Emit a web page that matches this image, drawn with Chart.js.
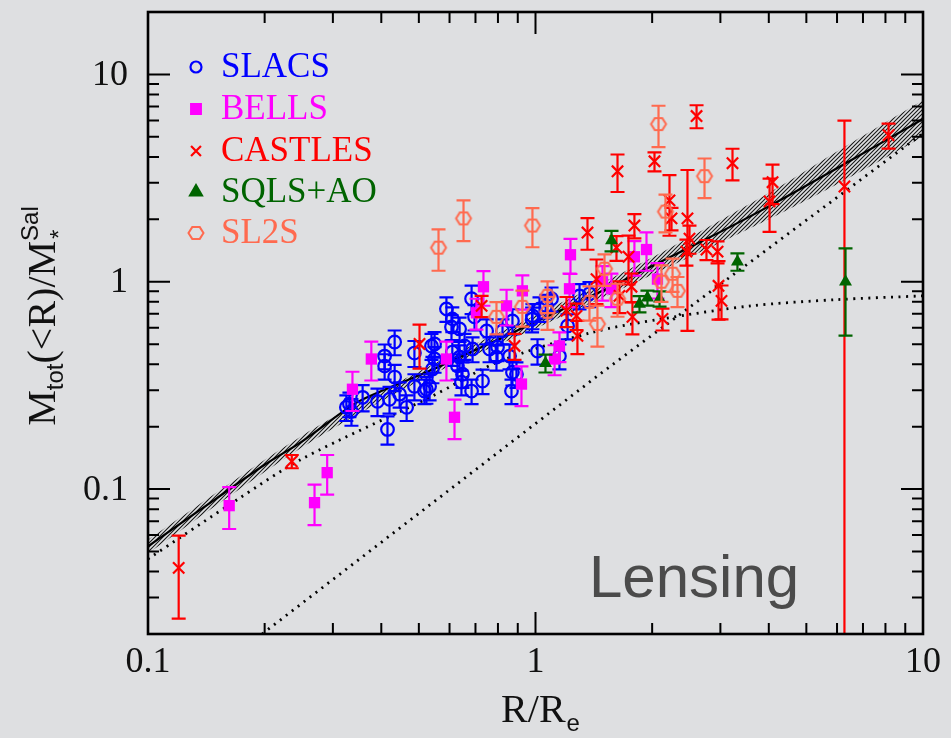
<!DOCTYPE html>
<html>
<head>
<meta charset="utf-8">
<script src="https://cdn.jsdelivr.net/npm/chart.js@4.4.0/dist/chart.umd.min.js"></script>
<style>
  html, body { margin: 0; padding: 0; background: #dedfe1; }
  #wrap { width: 951px; height: 738px; }
</style>
</head>
<body>
<div id="wrap"><canvas id="chart" width="951" height="738"></canvas></div>
<script>
// M_tot(<R)/M_*^Sal against R/R_e, strong lensing samples

// SLACS (blue open circles)
const slacsX = [0.433, 0.408, 0.408, 0.487, 0.433, 0.358, 0.391, 0.42, 0.446, 0.465,
                0.487, 0.523, 0.415, 0.325, 0.331, 0.335, 0.684, 0.589, 0.61, 0.607,
                0.637, 0.696, 0.688, 0.656, 0.61, 0.549, 0.539, 0.549, 0.542, 0.517,
                0.533, 0.637, 0.629, 0.648, 0.644, 0.684, 0.73, 0.761, 0.748, 0.798,
                0.793, 0.857, 0.893, 0.867, 0.872, 0.982, 1.012, 1.067, 0.822, 1.1,
                1.299, 1.378, 1.21, 1.153, 1.024, 0.98, 0.872];
const slacsY = [0.512, 0.438, 0.392, 0.453, 0.347, 0.277, 0.265, 0.271, 0.287, 0.248,
                0.313, 0.303, 0.194, 0.248, 0.257, 0.237, 0.828, 0.74, 0.662, 0.605,
                0.592, 0.677, 0.474, 0.49, 0.458, 0.501, 0.49, 0.424, 0.379, 0.297,
                0.313, 0.433, 0.392, 0.358, 0.328, 0.297, 0.332, 0.474, 0.579, 0.484,
                0.433, 0.438, 0.358, 0.297, 0.647, 0.685, 0.463, 0.765, 0.579, 0.828,
                0.855, 0.875, 0.612, 0.438, 0.74, 0.66, 0.366];
const slacsErr = [0.07, 0.06, 0.055, 0.065, 0.05, 0.04, 0.04, 0.04, 0.04, 0.035,
                  0.045, 0.045, 0.03, 0.035, 0.035, 0.035, 0.13, 0.1, 0.09, 0.085,
                  0.08, 0.095, 0.065, 0.07, 0.065, 0.07, 0.07, 0.06, 0.055, 0.04,
                  0.045, 0.06, 0.055, 0.05, 0.045, 0.04, 0.045, 0.065, 0.08, 0.07,
                  0.06, 0.06, 0.05, 0.04, 0.09, 0.095, 0.065, 0.1, 0.08, 0.11,
                  0.12, 0.12, 0.085, 0.06, 0.1, 0.09, 0.05];

// BELLS (magenta filled squares)
const bellsX = [0.162, 0.269, 0.29, 0.337, 0.377, 0.734, 0.704, 0.842, 0.925, 0.589,
                0.92, 0.618, 1.231, 1.224, 1.934, 1.8, 1.489, 1.57, 2.064, 1.153, 1.12];
const bellsY = [0.0832, 0.086, 0.12, 0.303, 0.424, 0.946, 0.708, 0.765, 0.904, 0.424,
                0.321, 0.222, 1.35, 0.925, 1.43, 1.32, 1.0, 0.925, 1.03, 0.49, 0.424];
const bellsErr = [0.019, 0.019, 0.026, 0.065, 0.09, 0.18, 0.12, 0.15, 0.17, 0.09,
                  0.07, 0.048, 0.26, 0.17, 0.3, 0.25, 0.19, 0.17, 0.2, 0.08, 0.07];

// CASTLES (red crosses)
const castlesX = [0.12, 0.235, 0.502, 0.726, 0.883, 1.362, 1.628, 2.028, 2.604, 3.224,
                  1.8, 2.217, 2.244, 2.467, 2.497, 2.452, 2.762, 2.95, 2.967, 3.02,
                  4.018, 4.09, 6.27, 8.15, 2.127, 1.618, 1.738, 1.437, 1.769, 1.202,
                  1.276, 1.283, 1.779, 1.647];
const castlesY = [0.0417, 0.136, 0.501, 0.765, 0.49, 1.727, 3.41, 3.81, 6.3, 3.73,
                  1.867, 2.467, 2.02, 2.02, 1.615, 1.397, 1.43, 1.397, 0.956, 0.809,
                  2.44, 3.02, 2.88, 5.09, 0.662, 1.46, 1.32, 1.03, 0.946, 0.724,
                  0.685, 0.548, 0.677, 0.855];
const castlesErr = [0.018, 0.01, 0.12, 0.09, 0.07, 0.3, 0.7, 0.4, 0.8, 0.65,
                    0.25, 0.8, 0.25, 1.44, 0.25, 0.2, 0.16, 0.17, 0.3, 0.15,
                    0.7, 0.65, 3.1, 0.7, 0.08, 0.2, 0.35, 0.25, 0.15, 0.12,
                    0.1, 0.1, 0.12, 0.15];

// SQLS+AO (green filled triangles)
const sqlsX = [1.061, 1.571, 1.855, 1.945, 2.09, 3.32, 6.31];
const sqlsY = [0.405, 1.58, 0.782, 0.837, 0.828, 1.25, 1.0];
const sqlsErr = [0.04, 0.18, 0.07, 0.07, 0.07, 0.12, 0.45];

// SL2S (coral open hexagons)
const sl2sX = [0.562, 0.652, 0.982, 2.077, 2.73, 2.165, 0.793, 0.925, 1.074, 1.074,
               1.378, 1.445, 1.507, 1.628, 2.114, 2.258, 2.325];
const sl2sY = [1.46, 2.02, 1.867, 5.76, 3.23, 2.18, 0.677, 0.757, 0.855, 0.716,
               0.8, 0.626, 1.156, 0.828, 1.0, 1.093, 0.904];
const sl2sErr = [0.33, 0.45, 0.4, 1.3, 0.7, 0.45, 0.12, 0.15, 0.15, 0.13,
                 0.15, 0.14, 0.2, 0.15, 0.2, 0.2, 0.15];

// model curves
const fitX = [0.1, 0.15, 0.2, 0.25, 0.34, 0.4, 0.53, 0.7, 1, 1.47, 2, 3, 4, 6, 10];
const fitY = [0.053, 0.09, 0.131, 0.17, 0.257, 0.297, 0.37, 0.469, 0.64, 0.895, 1.19, 1.74, 2.31, 3.53, 6.1];
const bandX = [0.1, 0.25, 0.53, 1, 2, 4, 6, 10];
const bandHi = [0.057, 0.181, 0.39, 0.69, 1.31, 2.68, 4.25, 7.5];
const bandLo = [0.049, 0.159, 0.35, 0.595, 1.08, 2.0, 2.95, 5.0];
const starX = [0.1, 0.17, 0.25, 0.54, 0.8, 1.4, 2.1, 3.6, 6, 10];
const starY = [0.046, 0.089, 0.14, 0.28, 0.41, 0.57, 0.66, 0.765, 0.82, 0.855];
const dmX = [0.197, 1.47, 10];
const dmY = [0.02, 0.36, 5.2];

// axes
const xMajorTicks = [0.1, 1, 10];
const xTickLabels = ['0.1', '1', '10'];
const xMinorTicks = [0.2, 0.3, 0.4, 0.5, 0.6, 0.7, 0.8, 0.9, 2, 3, 4, 5, 6, 7, 8, 9];
const yMajorTicks = [0.1, 1, 10];
const yTickLabels = ['0.1', '1', '10'];
const yMinorTicks = [0.03, 0.04, 0.05, 0.06, 0.07, 0.08, 0.09,
                     0.2, 0.3, 0.4, 0.5, 0.6, 0.7, 0.8, 0.9, 2, 3, 4, 5, 6, 7, 8, 9];

const SERIF = '"Liberation Serif", "DejaVu Serif", serif';
const SANS = '"Liberation Sans", Arial, sans-serif';

const xy = (xs, ys) => xs.map((x, i) => ({ x: x, y: ys[i] }));

const canvas = document.getElementById('chart');
const mainCtx = canvas.getContext('2d');

function makeHatch() {
  const c = document.createElement('canvas');
  c.width = 4; c.height = 4;
  const g = c.getContext('2d');
  g.strokeStyle = 'rgba(0,0,0,0.9)';
  g.lineWidth = 1.1;
  g.beginPath();
  g.moveTo(0, 4); g.lineTo(4, 0);
  g.moveTo(-1, 1); g.lineTo(1, -1);
  g.moveTo(3, 5); g.lineTo(5, 3);
  g.stroke();
  return mainCtx.createPattern(c, 'repeat');
}

function makeHex(color) {
  const c = document.createElement('canvas');
  c.width = 20; c.height = 20;
  const g = c.getContext('2d');
  g.strokeStyle = color;
  g.lineWidth = 2;
  g.beginPath();
  for (let k = 0; k < 6; k++) {
    const a = k * Math.PI / 3;
    const px = 10 + 7.5 * Math.cos(a), py = 10 + 6.8 * Math.sin(a);
    if (k === 0) g.moveTo(px, py); else g.lineTo(px, py);
  }
  g.closePath();
  g.stroke();
  return c;
}

const CORAL = '#ff6a4f';
const hexImg = makeHex(CORAL);

// error bars drawn right after each dataset, through the chart's scales
const errorBars = {
  id: 'errorBars',
  afterDatasetDraw(chart, args) {
    const ds = chart.data.datasets[args.index];
    if (!ds.yErr) return;
    const ctx = chart.ctx, xs = chart.scales.x, ys = chart.scales.y, a = chart.chartArea;
    ctx.save();
    ctx.beginPath();
    ctx.rect(a.left, a.top, a.right - a.left, a.bottom - a.top);
    ctx.clip();
    ctx.strokeStyle = ds.borderColor;
    ctx.lineWidth = 2.2;
    ds.data.forEach((p, i) => {
      const e = ds.yErr[i];
      const px = xs.getPixelForValue(p.x);
      const top = ys.getPixelForValue(p.y + e);
      const low = p.y - e;
      const bot = low > 0 ? ys.getPixelForValue(low) : a.bottom + 20;
      ctx.beginPath();
      ctx.moveTo(px, top); ctx.lineTo(px, bot);
      ctx.moveTo(px - 7, top); ctx.lineTo(px + 7, top);
      if (low > 0) { ctx.moveTo(px - 7, bot); ctx.lineTo(px + 7, bot); }
      ctx.stroke();
    });
    ctx.restore();
  }
};

// frame, inward ticks, labels, titles, legend
const decorations = {
  id: 'decorations',
  afterDraw(chart) {
    const ctx = chart.ctx, xs = chart.scales.x, ys = chart.scales.y, a = chart.chartArea;
    ctx.save();
    ctx.strokeStyle = '#000';
    ctx.fillStyle = '#111';

    ctx.lineWidth = 2;
    ctx.beginPath();
    xMajorTicks.concat(xMinorTicks).forEach(v => {
      const len = xMajorTicks.includes(v) ? 22 : 11;
      const px = xs.getPixelForValue(v);
      ctx.moveTo(px, a.bottom); ctx.lineTo(px, a.bottom - len);
      ctx.moveTo(px, a.top); ctx.lineTo(px, a.top + len);
    });
    yMajorTicks.concat(yMinorTicks).forEach(v => {
      const len = yMajorTicks.includes(v) ? 22 : 11;
      const py = ys.getPixelForValue(v);
      ctx.moveTo(a.left, py); ctx.lineTo(a.left + len, py);
      ctx.moveTo(a.right, py); ctx.lineTo(a.right - len, py);
    });
    ctx.stroke();

    ctx.lineWidth = 2.6;
    ctx.strokeRect(a.left, a.top, a.right - a.left, a.bottom - a.top);

    // tick labels
    ctx.font = '36px ' + SERIF;
    ctx.textAlign = 'center';
    ctx.textBaseline = 'alphabetic';
    xMajorTicks.forEach((v, i) => ctx.fillText(xTickLabels[i], xs.getPixelForValue(v), 672));
    ctx.textAlign = 'right';
    ctx.textBaseline = 'middle';
    yMajorTicks.forEach((v, i) => ctx.fillText(yTickLabels[i], 128, ys.getPixelForValue(v) + 1));

    // x title R/R_e
    ctx.textAlign = 'left';
    ctx.textBaseline = 'alphabetic';
    ctx.font = '40px ' + SERIF;
    const wR = ctx.measureText('R/R').width;
    ctx.font = '24px ' + SANS;
    const wE = ctx.measureText('e').width;
    const x0 = 540 - (wR + wE) / 2;
    ctx.font = '40px ' + SERIF;
    ctx.fillText('R/R', x0, 722);
    ctx.font = '24px ' + SANS;
    ctx.fillText('e', x0 + wR + 1, 731);

    // y title M_tot(<R)/M_*^Sal
    ctx.save();
    ctx.translate(55, 316);
    ctx.rotate(-Math.PI / 2);
    ctx.font = '40px ' + SERIF;
    const wM = ctx.measureText('M').width, wMid = ctx.measureText('(<R)/M').width;
    ctx.font = '24px ' + SANS;
    const wTot = ctx.measureText('tot').width, wSal = ctx.measureText('Sal').width;
    let t = -(wM + wTot + wMid + wSal) / 2;
    ctx.font = '40px ' + SERIF; ctx.fillText('M', t, 0); t += wM;
    ctx.font = '24px ' + SANS; ctx.fillText('tot', t, 8); t += wTot;
    ctx.font = '40px ' + SERIF; ctx.fillText('(<R)/M', t, 0); t += wMid;
    ctx.font = '24px ' + SANS; ctx.fillText('*', t + 2, 12); ctx.fillText('Sal', t, -17);
    ctx.restore();

    // Lensing label
    ctx.font = '60px ' + SANS;
    ctx.fillStyle = '#4b4b4b';
    ctx.fillText('Lensing', 589, 597);

    // legend
    const legendY = [67, 109, 151, 192, 233];
    chart.data.datasets.filter(d => d.yErr).forEach((d, i) => {
      const y = legendY[i];
      ctx.save();
      ctx.strokeStyle = d.borderColor;
      ctx.fillStyle = d.pointBackgroundColor || d.borderColor;
      ctx.lineWidth = d.pointBorderWidth || 2;
      Chart.helpers.drawPoint(ctx, {
        pointStyle: d.pointStyle, radius: d.legendRadius, rotation: 0,
        borderWidth: d.pointBorderWidth || 2
      }, 196, y);
      ctx.restore();
      ctx.font = '35px ' + SERIF;
      ctx.fillStyle = d.borderColor;
      ctx.textBaseline = 'middle';
      ctx.fillText(d.label, 221, y + 1);
    });
    ctx.restore();
  }
};

const pointSet = (label, xs, ys, errs, color, style, extra) => Object.assign({
  label: label,
  data: xy(xs, ys),
  yErr: errs,
  borderColor: color,
  pointBorderColor: color,
  pointStyle: style,
  showLine: false
}, extra);

new Chart(canvas, {
  type: 'scatter',
  data: {
    datasets: [
      pointSet('SLACS', slacsX, slacsY, slacsErr, '#0000ff', 'circle', {
        pointBackgroundColor: 'rgba(0,0,0,0)', pointRadius: 6.3, pointBorderWidth: 2.2,
        legendRadius: 5.5, order: 5
      }),
      pointSet('BELLS', bellsX, bellsY, bellsErr, '#ff00ff', 'rect', {
        pointBackgroundColor: '#ff00ff', pointRadius: 8, pointBorderWidth: 0,
        legendRadius: 7, order: 4
      }),
      pointSet('CASTLES', castlesX, castlesY, castlesErr, '#ff0000', 'crossRot', {
        pointBackgroundColor: '#ff0000', pointRadius: 8, pointBorderWidth: 2.2,
        legendRadius: 7, order: 3
      }),
      pointSet('SQLS+AO', sqlsX, sqlsY, sqlsErr, '#006400', 'triangle', {
        pointBackgroundColor: '#006400', pointRadius: 7.5, pointBorderWidth: 0,
        legendRadius: 7, order: 2
      }),
      pointSet('SL2S', sl2sX, sl2sY, sl2sErr, CORAL, hexImg, {
        pointBackgroundColor: 'rgba(0,0,0,0)', pointRadius: 8, pointBorderWidth: 2,
        legendRadius: 8, order: 1
      }),
      {
        type: 'line', label: 'band upper', data: xy(bandX, bandHi),
        borderWidth: 0, pointRadius: 0, tension: 0.3,
        backgroundColor: makeHatch(), fill: '+1', order: 12
      },
      {
        type: 'line', label: 'band lower', data: xy(bandX, bandLo),
        borderWidth: 0, pointRadius: 0, tension: 0.3, fill: false, order: 13
      },
      {
        type: 'line', label: 'total', data: xy(fitX, fitY),
        borderColor: '#000', borderWidth: 2.2, pointRadius: 0, tension: 0.3, fill: false, order: 11
      },
      {
        type: 'line', label: 'stars', data: xy(starX, starY),
        borderColor: '#000', borderWidth: 2.8, borderDash: [2, 5.5], pointRadius: 0,
        tension: 0.3, fill: false, order: 10
      },
      {
        type: 'line', label: 'dark matter', data: xy(dmX, dmY),
        borderColor: '#000', borderWidth: 2.8, borderDash: [2, 5.5], pointRadius: 0,
        tension: 0, fill: false, order: 10
      }
    ]
  },
  options: {
    responsive: false,
    animation: false,
    layout: { padding: { left: 148, right: 28, top: 12, bottom: 104 } },
    scales: {
      x: { type: 'logarithmic', min: 0.1, max: 10, display: false },
      y: { type: 'logarithmic', min: 0.02, max: 20, display: false }
    },
    plugins: {
      legend: { display: false },
      tooltip: { enabled: false }
    }
  },
  plugins: [errorBars, decorations]
});
</script>
</body>
</html>
